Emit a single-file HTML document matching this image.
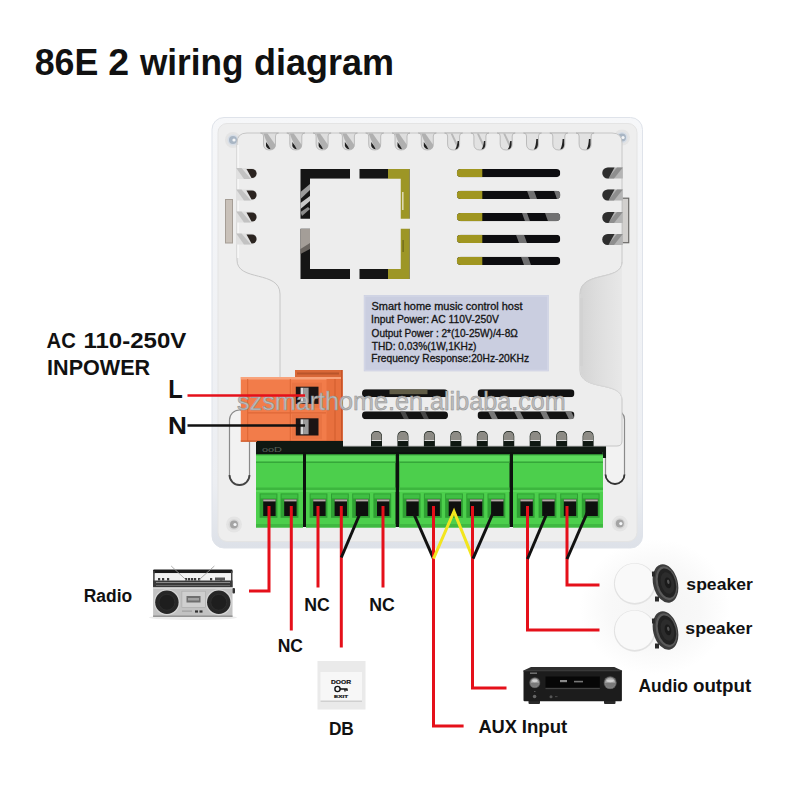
<!DOCTYPE html>
<html><head><meta charset="utf-8"><style>
html,body{margin:0;padding:0;background:#fff;width:800px;height:800px;overflow:hidden}
svg{display:block}
</style></head><body>
<svg width="800" height="800" viewBox="0 0 800 800">
<rect width="800" height="800" fill="#ffffff"/>
<defs><radialGradient id="sh" cx="0.5" cy="0.5" r="0.5"><stop offset="0" stop-color="#f4f4f4"/><stop offset="0.6" stop-color="#f8f8f8"/><stop offset="1" stop-color="#ffffff"/></radialGradient></defs>
<ellipse cx="655" cy="607" rx="75" ry="68" fill="url(#sh)"/>
<defs><linearGradient id="pg" x1="0" x2="0" y1="0" y2="1"><stop offset="0" stop-color="#f6f7f9"/><stop offset="0.85" stop-color="#eceef2"/><stop offset="1" stop-color="#dde1e8"/></linearGradient></defs>
<rect x="212" y="117.5" width="430.5" height="430.5" rx="12" fill="url(#pg)" stroke="#dfe3ea" stroke-width="1"/>
<rect x="218" y="123.5" width="419" height="418" rx="9" fill="#eeeeee" stroke="#e4e4e4" stroke-width="1"/>
<rect x="229.5" y="410" width="20" height="75" rx="10" fill="#f2f2f2" stroke="#8a8a8a" stroke-width="1.2"/>
<path d="M229.5,475 A10,10 0 0 0 249.5,475" fill="none" stroke="#444" stroke-width="1.8"/>
<rect x="605.5" y="410" width="19" height="74" rx="9.5" fill="#f2f2f2" stroke="#8a8a8a" stroke-width="1.2"/>
<path d="M605.5,474.5 A9.5,9.5 0 0 0 624.5,474.5" fill="none" stroke="#333" stroke-width="1.8"/>
<circle cx="233" cy="140" r="8" fill="#e4e4e4"/>
<circle cx="233" cy="140" r="5.5" fill="#d6dde6"/>
<circle cx="233" cy="140" r="4" fill="#a9b6c4"/>
<circle cx="234" cy="140" r="1.6" fill="#f4f6f8"/>
<circle cx="622" cy="137.5" r="8" fill="#e4e4e4"/>
<circle cx="622" cy="137.5" r="5.5" fill="#d6dde6"/>
<circle cx="622" cy="137.5" r="4" fill="#a9b6c4"/>
<circle cx="623" cy="137.5" r="1.6" fill="#f4f6f8"/>
<circle cx="234" cy="524.5" r="8" fill="#e4e4e4"/>
<circle cx="234" cy="524.5" r="5.5" fill="#d8d8d8"/>
<circle cx="234" cy="524.5" r="4" fill="#a4a4a4"/>
<circle cx="235" cy="524.5" r="1.6" fill="#f4f6f8"/>
<circle cx="619.8" cy="523.6" r="8" fill="#e4e4e4"/>
<circle cx="619.8" cy="523.6" r="5.5" fill="#d8d8d8"/>
<circle cx="619.8" cy="523.6" r="4" fill="#a4a4a4"/>
<circle cx="620.8" cy="523.6" r="1.6" fill="#f4f6f8"/>
<rect x="225.5" y="199.5" width="7" height="43.5" fill="#c9c1b9" stroke="#a59d95" stroke-width="1"/>
<rect x="621.5" y="198.2" width="7.2" height="44.5" fill="#d2d0ce" stroke="#6a6866" stroke-width="1.2"/>
<rect x="256" y="436" width="350" height="22" fill="#0f1812"/>
<rect x="296" y="452" width="307" height="3" fill="#1d3a22"/>
<path d="M237,143 Q237,133 247,133 L612,133 Q622,133 622,143 L622,262 C622,282 580,270 580,294 L580,370 C580,392 622,380 622,400 L622,441 Q622,446 617,446 L280,446 L280,294 C280,270 237,282 237,260 Z" fill="#ededed" stroke="#c6c6c6" stroke-width="1"/>
<path d="M238,145 L238,258" stroke="#f8f8f8" stroke-width="1.5"/>
<defs><linearGradient id="rg" gradientUnits="userSpaceOnUse" x1="580" x2="636" y1="0" y2="0"><stop offset="0" stop-color="#d4d4d4"/><stop offset="0.3" stop-color="#dddddd"/><stop offset="0.75" stop-color="#e8e8e8"/><stop offset="1" stop-color="#eeeeee"/></linearGradient></defs>
<path d="M580.5,294 L580.5,370 C580.5,392 622,380 622,400 L622,262 C622,282 580.5,270 580.5,294 Z" fill="url(#rg)"/>
<path d="M581.5,298 L581.5,366" stroke="#d2d2d2" stroke-width="3"/>
<path d="M622,262 C622,282 580.5,270 580.5,294" fill="none" stroke="#d0d0d0" stroke-width="1"/>
<path d="M580.5,370 C580.5,392 622,380 622,400" fill="none" stroke="#d8d8d8" stroke-width="1"/>
<path d="M260.5,133 Q263.5,133 263.5,136 L263.5,144 Q263.5,150 269.5,150 Q275.5,150 275.5,144 L275.5,136 Q275.5,133 278.5,133 Z" fill="#dedede" stroke="#b0b0b0" stroke-width="0.8"/>
<path d="M263.5,133.5 L267.5,133.5 L275.5,145 Q275.5,149.6 270.5,149.6 L265.5,139 Z" fill="#b0b0b0"/>
<path d="M266.0,142 Q269.5,146.5 270.5,149.3 Q267.0,149 266.0,146 Z" fill="#1e1e1e"/>
<path d="M286.8,133 Q289.8,133 289.8,136 L289.8,144 Q289.8,150 295.8,150 Q301.8,150 301.8,144 L301.8,136 Q301.8,133 304.8,133 Z" fill="#dedede" stroke="#b0b0b0" stroke-width="0.8"/>
<path d="M289.8,133.5 L293.8,133.5 L301.8,145 Q301.8,149.6 296.8,149.6 L291.8,139 Z" fill="#b0b0b0"/>
<path d="M292.3,142 Q295.8,146.5 296.8,149.3 Q293.3,149 292.3,146 Z" fill="#1e1e1e"/>
<path d="M313.1,133 Q316.1,133 316.1,136 L316.1,144 Q316.1,150 322.1,150 Q328.1,150 328.1,144 L328.1,136 Q328.1,133 331.1,133 Z" fill="#dedede" stroke="#b0b0b0" stroke-width="0.8"/>
<path d="M316.1,133.5 L320.1,133.5 L328.1,145 Q328.1,149.6 323.1,149.6 L318.1,139 Z" fill="#b0b0b0"/>
<path d="M318.6,142 Q322.1,146.5 323.1,149.3 Q319.6,149 318.6,146 Z" fill="#1e1e1e"/>
<path d="M339.4,133 Q342.4,133 342.4,136 L342.4,144 Q342.4,150 348.4,150 Q354.4,150 354.4,144 L354.4,136 Q354.4,133 357.4,133 Z" fill="#dedede" stroke="#b0b0b0" stroke-width="0.8"/>
<path d="M342.4,133.5 L346.4,133.5 L354.4,145 Q354.4,149.6 349.4,149.6 L344.4,139 Z" fill="#b0b0b0"/>
<path d="M344.9,142 Q348.4,146.5 349.4,149.3 Q345.9,149 344.9,146 Z" fill="#1e1e1e"/>
<path d="M365.7,133 Q368.7,133 368.7,136 L368.7,144 Q368.7,150 374.7,150 Q380.7,150 380.7,144 L380.7,136 Q380.7,133 383.7,133 Z" fill="#dedede" stroke="#b0b0b0" stroke-width="0.8"/>
<path d="M368.7,133.5 L372.7,133.5 L380.7,145 Q380.7,149.6 375.7,149.6 L370.7,139 Z" fill="#b0b0b0"/>
<path d="M371.2,142 Q374.7,146.5 375.7,149.3 Q372.2,149 371.2,146 Z" fill="#1e1e1e"/>
<path d="M392.0,133 Q395.0,133 395.0,136 L395.0,144 Q395.0,150 401.0,150 Q407.0,150 407.0,144 L407.0,136 Q407.0,133 410.0,133 Z" fill="#dedede" stroke="#b0b0b0" stroke-width="0.8"/>
<path d="M395.0,133.5 L399.0,133.5 L407.0,145 Q407.0,149.6 402.0,149.6 L397.0,139 Z" fill="#b0b0b0"/>
<path d="M397.5,142 Q401.0,146.5 402.0,149.3 Q398.5,149 397.5,146 Z" fill="#1e1e1e"/>
<path d="M418.3,133 Q421.3,133 421.3,136 L421.3,144 Q421.3,150 427.3,150 Q433.3,150 433.3,144 L433.3,136 Q433.3,133 436.3,133 Z" fill="#dedede" stroke="#b0b0b0" stroke-width="0.8"/>
<path d="M421.3,133.5 L425.3,133.5 L433.3,145 Q433.3,149.6 428.3,149.6 L423.3,139 Z" fill="#b0b0b0"/>
<path d="M423.8,142 Q427.3,146.5 428.3,149.3 Q424.8,149 423.8,146 Z" fill="#1e1e1e"/>
<path d="M444.6,133 Q447.6,133 447.6,136 L447.6,144 Q447.6,150 453.6,150 Q459.6,150 459.6,144 L459.6,136 Q459.6,133 462.6,133 Z" fill="#e2e2e2" stroke="#b0b0b0" stroke-width="0.8"/>
<path d="M450.6,133.5 L452.6,133.5 L458.6,146 L457.6,149 Z" fill="#b8b8b8"/>
<path d="M459.0,141 L459.0,145 Q458.6,149.2 455.1,149.4 Q457.1,147 457.6,141 Z" fill="#222"/>
<path d="M470.9,133 Q473.9,133 473.9,136 L473.9,144 Q473.9,150 479.9,150 Q485.9,150 485.9,144 L485.9,136 Q485.9,133 488.9,133 Z" fill="#e2e2e2" stroke="#b0b0b0" stroke-width="0.8"/>
<path d="M476.9,133.5 L478.9,133.5 L484.9,146 L483.9,149 Z" fill="#b8b8b8"/>
<path d="M485.29999999999995,141 L485.29999999999995,145 Q484.9,149.2 481.4,149.4 Q483.4,147 483.9,141 Z" fill="#222"/>
<path d="M497.20000000000005,133 Q500.20000000000005,133 500.20000000000005,136 L500.20000000000005,144 Q500.20000000000005,150 506.20000000000005,150 Q512.2,150 512.2,144 L512.2,136 Q512.2,133 515.2,133 Z" fill="#e2e2e2" stroke="#b0b0b0" stroke-width="0.8"/>
<path d="M503.20000000000005,133.5 L505.20000000000005,133.5 L511.20000000000005,146 L510.20000000000005,149 Z" fill="#b8b8b8"/>
<path d="M511.6,141 L511.6,145 Q511.20000000000005,149.2 507.70000000000005,149.4 Q509.70000000000005,147 510.20000000000005,141 Z" fill="#222"/>
<path d="M523.5,133 Q526.5,133 526.5,136 L526.5,144 Q526.5,150 532.5,150 Q538.5,150 538.5,144 L538.5,136 Q538.5,133 541.5,133 Z" fill="#e2e2e2" stroke="#b0b0b0" stroke-width="0.8"/>
<path d="M537.9,139 L537.9,145 Q537.5,149.2 534.0,149.4 Q536.0,146 536.3,139 Z" fill="#222"/>
<path d="M549.8,133 Q552.8,133 552.8,136 L552.8,144 Q552.8,150 558.8,150 Q564.8,150 564.8,144 L564.8,136 Q564.8,133 567.8,133 Z" fill="#e2e2e2" stroke="#b0b0b0" stroke-width="0.8"/>
<path d="M564.1999999999999,139 L564.1999999999999,145 Q563.8,149.2 560.3,149.4 Q562.3,146 562.5999999999999,139 Z" fill="#222"/>
<path d="M576.1,133 Q579.1,133 579.1,136 L579.1,144 Q579.1,150 585.1,150 Q591.1,150 591.1,144 L591.1,136 Q591.1,133 594.1,133 Z" fill="#e2e2e2" stroke="#b0b0b0" stroke-width="0.8"/>
<path d="M590.5,139 L590.5,145 Q590.1,149.2 586.6,149.4 Q588.6,146 588.9,139 Z" fill="#222"/>
<path d="M236.2,167.9 H251.2 A5.6,5.6 0 0 1 251.2,179.1 H236.2 Z" fill="#e0e0e0"/>
<path d="M236.2,167.9 L241.5,167.9 L251,179.1 L244,179.1 Z" fill="#c2c2c2"/>
<path d="M246.5,168.9 H252 A4.6,4.6 0 0 1 252,178.1 H251.5 Z" fill="#2b2420"/>
<path d="M236.2,189.4 H251.2 A5.6,5.6 0 0 1 251.2,200.6 H236.2 Z" fill="#e0e0e0"/>
<path d="M236.2,189.4 L241.5,189.4 L251,200.6 L244,200.6 Z" fill="#c2c2c2"/>
<path d="M246.5,190.4 H252 A4.6,4.6 0 0 1 252,199.6 H251.5 Z" fill="#2b2420"/>
<path d="M236.2,211.4 H251.2 A5.6,5.6 0 0 1 251.2,222.6 H236.2 Z" fill="#e0e0e0"/>
<path d="M236.2,211.4 L241.5,211.4 L251,222.6 L244,222.6 Z" fill="#c2c2c2"/>
<path d="M246.5,212.4 H252 A4.6,4.6 0 0 1 252,221.6 H251.5 Z" fill="#2b2420"/>
<path d="M236.2,233.4 H251.2 A5.6,5.6 0 0 1 251.2,244.6 H236.2 Z" fill="#e0e0e0"/>
<path d="M236.2,233.4 L241.5,233.4 L251,244.6 L244,244.6 Z" fill="#c2c2c2"/>
<path d="M246.5,234.4 H252 A4.6,4.6 0 0 1 252,243.6 H251.5 Z" fill="#2b2420"/>
<path d="M622.8,167.4 H607.9 A5.6,5.6 0 0 0 607.9,178.6 H622.8 Z" fill="#b4b4b4"/>
<path d="M622.8,167.4 L617,167.4 L608,178.6 L614,178.6 Z" fill="#8e8e8e"/>
<path d="M614.5,167.4 H607.9 A5.6,5.6 0 0 0 607.9,178.6 H608.5 Z" fill="#2e2e2e"/>
<path d="M622.8,189.4 H607.9 A5.6,5.6 0 0 0 607.9,200.6 H622.8 Z" fill="#b4b4b4"/>
<path d="M622.8,189.4 L617,189.4 L608,200.6 L614,200.6 Z" fill="#8e8e8e"/>
<path d="M614.5,189.4 H607.9 A5.6,5.6 0 0 0 607.9,200.6 H608.5 Z" fill="#2e2e2e"/>
<path d="M622.8,211.9 H607.9 A5.6,5.6 0 0 0 607.9,223.1 H622.8 Z" fill="#b4b4b4"/>
<path d="M622.8,211.9 L617,211.9 L608,223.1 L614,223.1 Z" fill="#8e8e8e"/>
<path d="M614.5,211.9 H607.9 A5.6,5.6 0 0 0 607.9,223.1 H608.5 Z" fill="#2e2e2e"/>
<path d="M622.8,233.9 H607.9 A5.6,5.6 0 0 0 607.9,245.1 H622.8 Z" fill="#b4b4b4"/>
<path d="M622.8,233.9 L617,233.9 L608,245.1 L614,245.1 Z" fill="#8e8e8e"/>
<path d="M614.5,233.9 H607.9 A5.6,5.6 0 0 0 607.9,245.1 H608.5 Z" fill="#2e2e2e"/>
<path fill-rule="evenodd" d="M300.5,169 H409.5 V279 H300.5 Z M310,178.75 H400.75 V269 H310 Z" fill="#151515"/>
<rect x="388" y="169" width="21.5" height="110" fill="#9d9626"/>
<rect x="310" y="178.75" width="90.75" height="90.25" fill="#ededed"/>
<rect x="350" y="168" width="9.5" height="112" fill="#ededed"/>
<rect x="299.5" y="218.75" width="111" height="10" fill="#ededed"/>
<path d="M300.5,192 L310,184 L310,190 L300.5,199 Z" fill="#9a9a9a"/>
<path d="M300.5,203 L310,196 L310,201 L300.5,209 Z" fill="#c8c8c8"/>
<path d="M300.5,212 L308,207 L310,209 L302,216 Z" fill="#8a8a8a"/>
<rect x="300.5" y="229" width="9.5" height="20" fill="#a49e98"/>
<path d="M300.5,249 L310,243 L310,249 L300.5,254 Z" fill="#6a6560"/>
<rect x="402" y="192" width="1.6" height="18" fill="#dcd8b0"/>
<rect x="402.5" y="240" width="1.2" height="12" fill="#6a6418"/>
<defs><clipPath id="vs">
<rect x="456.8" y="169.0" width="103.5" height="8.2" rx="4.1"/>
<rect x="456.8" y="190.8" width="103.5" height="8.2" rx="4.1"/>
<rect x="456.8" y="213.0" width="103.5" height="8.2" rx="4.1"/>
<rect x="456.8" y="234.8" width="103.5" height="8.2" rx="4.1"/>
<rect x="456.8" y="256.79999999999995" width="103.5" height="8.2" rx="4.1"/>
</clipPath></defs>
<g clip-path="url(#vs)">
<rect x="456.8" y="169.0" width="103.5" height="8.2" fill="#0d0d10"/>
<rect x="456.8" y="169.0" width="25.5" height="8.2" fill="#a09620"/>
<rect x="456.8" y="190.8" width="103.5" height="8.2" fill="#0d0d10"/>
<rect x="456.8" y="190.8" width="25.5" height="8.2" fill="#a09620"/>
<rect x="456.8" y="213.0" width="103.5" height="8.2" fill="#0d0d10"/>
<rect x="456.8" y="213.0" width="25.5" height="8.2" fill="#a09620"/>
<rect x="456.8" y="234.8" width="103.5" height="8.2" fill="#0d0d10"/>
<rect x="456.8" y="234.8" width="25.5" height="8.2" fill="#a09620"/>
<rect x="456.8" y="256.79999999999995" width="103.5" height="8.2" fill="#0d0d10"/>
<rect x="456.8" y="256.79999999999995" width="25.5" height="8.2" fill="#a09620"/>
<path d="M527,190.8 h7 l3,8.2 h-7 Z" fill="#8a8a8a" opacity="0.8"/>
<path d="M554,190.8 h6 l3,8.2 h-6 Z" fill="#8a8a8a" opacity="0.8"/>
<path d="M522,213.0 h5 l3,8.2 h-5 Z" fill="#8a8a8a" opacity="0.8"/>
<path d="M545,213.0 h14 l3,8.2 h-14 Z" fill="#8a8a8a" opacity="0.8"/>
<path d="M516,234.8 h8 l3,8.2 h-8 Z" fill="#8a8a8a" opacity="0.8"/>
<path d="M521,256.79999999999995 h7 l3,8.2 h-7 Z" fill="#8a8a8a" opacity="0.8"/>
</g>
<rect x="363.8" y="295" width="185" height="76.3" fill="#cacee0"/>
<rect x="364.8" y="296" width="183" height="74.3" fill="none" stroke="#d6d9e8" stroke-width="1"/>
<text x="371.51" y="310.2" font-size="10.30" font-family="Liberation Sans, sans-serif" fill="#141414" textLength="150.98" lengthAdjust="spacingAndGlyphs" stroke="#141414" stroke-width="0.3">Smart home music control host</text>
<text x="371.07" y="323.4" font-size="10.30" font-family="Liberation Sans, sans-serif" fill="#141414" textLength="127.82" lengthAdjust="spacingAndGlyphs" stroke="#141414" stroke-width="0.3">Input Power: AC 110V-250V</text>
<text x="371.55" y="336.5" font-size="10.30" font-family="Liberation Sans, sans-serif" fill="#141414" textLength="146.27" lengthAdjust="spacingAndGlyphs" stroke="#141414" stroke-width="0.3">Output Power : 2*(10-25W)/4-8Ω</text>
<text x="371.75" y="349.6" font-size="10.30" font-family="Liberation Sans, sans-serif" fill="#141414" textLength="104.67" lengthAdjust="spacingAndGlyphs" stroke="#141414" stroke-width="0.3">THD: 0.03%(1W,1KHz)</text>
<text x="371.18" y="362.4" font-size="10.30" font-family="Liberation Sans, sans-serif" fill="#141414" textLength="157.90" lengthAdjust="spacingAndGlyphs" stroke="#141414" stroke-width="0.3">Frequency Response:20Hz-20KHz</text>
<defs><clipPath id="bs">
<rect x="362" y="389.2" width="86" height="8" rx="4"/>
<rect x="362" y="411.3" width="86" height="8" rx="4"/>
<rect x="477.5" y="389.2" width="97.0" height="8" rx="4"/>
<rect x="477.5" y="411.3" width="97.0" height="8" rx="4"/>
</clipPath></defs>
<g clip-path="url(#bs)">
<rect x="362" y="389.2" width="86" height="8" fill="#121212"/>
<rect x="362" y="411.3" width="86" height="8" fill="#121212"/>
<rect x="477.5" y="389.2" width="97.0" height="8" fill="#121212"/>
<rect x="477.5" y="411.3" width="97.0" height="8" fill="#121212"/>
<rect x="389.5" y="389.2" width="38" height="5" fill="#6e6a50" opacity="0.85"/>
<path d="M488,411.3 h6 l4,8 h-6 Z" fill="#8a8a8a" opacity="0.85"/>
<path d="M514,411.3 h6 l4,8 h-6 Z" fill="#8a8a8a" opacity="0.85"/>
<path d="M540,411.3 h6 l4,8 h-6 Z" fill="#8a8a8a" opacity="0.85"/>
<path d="M565,411.3 h6 l4,8 h-6 Z" fill="#8a8a8a" opacity="0.85"/>
<path d="M400,411.3 h5 l4,8 h-5 Z" fill="#555" opacity="0.8"/>
<path d="M420,411.3 h5 l4,8 h-5 Z" fill="#555" opacity="0.8"/>
</g>
<path d="M371.0,446.5 L371.0,436.5 Q371.0,431 376.5,431 Q382.0,431 382.0,436.5 L382.0,446.5 Z" fill="#0f1812"/>
<path d="M371.5,440 L371.5,436.5 Q371.5,431.8 376.5,431.8 Q381.5,431.8 381.5,436.5 L381.5,440 Z" fill="#8d8b85"/>
<rect x="371.5" y="440" width="10" height="1" fill="#d8d8d8"/>
<path d="M397.45,446.5 L397.45,436.5 Q397.45,431 402.95,431 Q408.45,431 408.45,436.5 L408.45,446.5 Z" fill="#0f1812"/>
<path d="M397.95,440 L397.95,436.5 Q397.95,431.8 402.95,431.8 Q407.95,431.8 407.95,436.5 L407.95,440 Z" fill="#8d8b85"/>
<rect x="397.95" y="440" width="10" height="1" fill="#d8d8d8"/>
<path d="M423.9,446.5 L423.9,436.5 Q423.9,431 429.4,431 Q434.9,431 434.9,436.5 L434.9,446.5 Z" fill="#0f1812"/>
<path d="M424.4,440 L424.4,436.5 Q424.4,431.8 429.4,431.8 Q434.4,431.8 434.4,436.5 L434.4,440 Z" fill="#8d8b85"/>
<rect x="424.4" y="440" width="10" height="1" fill="#d8d8d8"/>
<path d="M450.35,446.5 L450.35,436.5 Q450.35,431 455.85,431 Q461.35,431 461.35,436.5 L461.35,446.5 Z" fill="#0f1812"/>
<path d="M450.85,440 L450.85,436.5 Q450.85,431.8 455.85,431.8 Q460.85,431.8 460.85,436.5 L460.85,440 Z" fill="#8d8b85"/>
<rect x="450.85" y="440" width="10" height="1" fill="#d8d8d8"/>
<path d="M476.8,446.5 L476.8,436.5 Q476.8,431 482.3,431 Q487.8,431 487.8,436.5 L487.8,446.5 Z" fill="#0f1812"/>
<path d="M477.3,440 L477.3,436.5 Q477.3,431.8 482.3,431.8 Q487.3,431.8 487.3,436.5 L487.3,440 Z" fill="#8d8b85"/>
<rect x="477.3" y="440" width="10" height="1" fill="#d8d8d8"/>
<path d="M503.25,446.5 L503.25,436.5 Q503.25,431 508.75,431 Q514.25,431 514.25,436.5 L514.25,446.5 Z" fill="#0f1812"/>
<path d="M503.75,440 L503.75,436.5 Q503.75,431.8 508.75,431.8 Q513.75,431.8 513.75,436.5 L513.75,440 Z" fill="#8d8b85"/>
<rect x="503.75" y="440" width="10" height="1" fill="#d8d8d8"/>
<path d="M529.7,446.5 L529.7,436.5 Q529.7,431 535.2,431 Q540.7,431 540.7,436.5 L540.7,446.5 Z" fill="#0f1812"/>
<path d="M530.2,440 L530.2,436.5 Q530.2,431.8 535.2,431.8 Q540.2,431.8 540.2,436.5 L540.2,440 Z" fill="#8d8b85"/>
<rect x="530.2" y="440" width="10" height="1" fill="#d8d8d8"/>
<path d="M556.15,446.5 L556.15,436.5 Q556.15,431 561.65,431 Q567.15,431 567.15,436.5 L567.15,446.5 Z" fill="#0f1812"/>
<path d="M556.65,440 L556.65,436.5 Q556.65,431.8 561.65,431.8 Q566.65,431.8 566.65,436.5 L566.65,440 Z" fill="#8d8b85"/>
<rect x="556.65" y="440" width="10" height="1" fill="#d8d8d8"/>
<path d="M582.6,446.5 L582.6,436.5 Q582.6,431 588.1,431 Q593.6,431 593.6,436.5 L593.6,446.5 Z" fill="#0f1812"/>
<path d="M583.1,440 L583.1,436.5 Q583.1,431.8 588.1,431.8 Q593.1,431.8 593.1,436.5 L593.1,440 Z" fill="#8d8b85"/>
<rect x="583.1" y="440" width="10" height="1" fill="#d8d8d8"/>
<rect x="295" y="370" width="47.6" height="9" fill="#d96838"/>
<rect x="297" y="372.5" width="42" height="2" fill="#b9552b"/>
<rect x="240.8" y="377" width="101.8" height="64.7" fill="#f27c4a"/>
<rect x="240.8" y="377" width="101.8" height="2.5" fill="#f8a37c"/>
<rect x="247.2" y="379" width="1" height="62" fill="#dc6533"/>
<rect x="289.8" y="379" width="1" height="62" fill="#dc6533"/>
<rect x="326.5" y="379" width="16" height="62.7" fill="#e8703e"/>
<rect x="334.5" y="379" width="1" height="62.7" fill="#cf5c2c"/>
<rect x="341" y="370" width="1.6" height="71.7" fill="#c85428"/>
<rect x="248" y="412.3" width="78" height="1.2" fill="#dd6636"/>
<rect x="240.8" y="440.5" width="101.8" height="1.2" fill="#c95a2b"/>
<rect x="292" y="382.7" width="30" height="25" fill="#ea7443"/>
<rect x="295.8" y="386.7" width="22.7" height="17.2" fill="#1c1414"/>
<rect x="300.6" y="387.7" width="3" height="15" fill="#d8d8d8"/>
<rect x="303.6" y="387.7" width="5" height="15" fill="#9a9a9a"/>
<rect x="292" y="414.3" width="30" height="25" fill="#ea7443"/>
<rect x="295.8" y="418.3" width="22.7" height="17.2" fill="#1c1414"/>
<rect x="300.6" y="419.3" width="3" height="15" fill="#d8d8d8"/>
<rect x="303.6" y="419.3" width="5" height="15" fill="#9a9a9a"/>
<rect x="257" y="441" width="86" height="14" fill="#0f1812"/>
<text x="262" y="452" font-size="7" font-family="Liberation Sans, sans-serif" fill="#5a625c" textLength="20" lengthAdjust="spacingAndGlyphs">ooD</text>
<rect x="257" y="452" width="345" height="75" fill="#0c120e"/>
<rect x="256" y="454" width="47" height="73.5" fill="#4ccf4c"/>
<rect x="256" y="454" width="47" height="1.5" fill="#2e8a32"/>
<rect x="256" y="455.5" width="47" height="6" fill="#5cdc5c"/>
<rect x="256" y="461.5" width="47" height="1.5" fill="#36a83a"/>
<rect x="256" y="487.5" width="47" height="2.5" fill="#3cb63e"/>
<rect x="256" y="490" width="47" height="2" fill="#5ad85a"/>
<rect x="256" y="524" width="47" height="3.5" fill="#3fb841"/>
<rect x="259.6" y="493.4" width="17.8" height="24.4" fill="#2f9f33"/>
<rect x="260.6" y="494.4" width="15.8" height="4" fill="#3fbf43"/>
<rect x="263.20000000000005" y="499.4" width="12.4" height="16.6" fill="#0e100e"/>
<rect x="263.20000000000005" y="499.4" width="12.4" height="2" fill="#b5aaa8"/>
<rect x="280.6" y="493.4" width="17.8" height="24.4" fill="#2f9f33"/>
<rect x="281.6" y="494.4" width="15.8" height="4" fill="#3fbf43"/>
<rect x="284.20000000000005" y="499.4" width="12.4" height="16.6" fill="#0e100e"/>
<rect x="284.20000000000005" y="499.4" width="12.4" height="2" fill="#b5aaa8"/>
<rect x="306" y="454" width="89.5" height="73.5" fill="#4ccf4c"/>
<rect x="306" y="454" width="89.5" height="1.5" fill="#2e8a32"/>
<rect x="306" y="455.5" width="89.5" height="6" fill="#5cdc5c"/>
<rect x="306" y="461.5" width="89.5" height="1.5" fill="#36a83a"/>
<rect x="306" y="487.5" width="89.5" height="2.5" fill="#3cb63e"/>
<rect x="306" y="490" width="89.5" height="2" fill="#5ad85a"/>
<rect x="306" y="524" width="89.5" height="3.5" fill="#3fb841"/>
<rect x="309.6" y="493.4" width="17.8" height="24.4" fill="#2f9f33"/>
<rect x="310.6" y="494.4" width="15.8" height="4" fill="#3fbf43"/>
<rect x="313.20000000000005" y="499.4" width="12.4" height="16.6" fill="#0e100e"/>
<rect x="313.20000000000005" y="499.4" width="12.4" height="2" fill="#b5aaa8"/>
<rect x="331" y="493.4" width="17.8" height="24.4" fill="#2f9f33"/>
<rect x="332" y="494.4" width="15.8" height="4" fill="#3fbf43"/>
<rect x="334.6" y="499.4" width="12.4" height="16.6" fill="#0e100e"/>
<rect x="334.6" y="499.4" width="12.4" height="2" fill="#b5aaa8"/>
<rect x="352.2" y="493.4" width="17.8" height="24.4" fill="#2f9f33"/>
<rect x="353.2" y="494.4" width="15.8" height="4" fill="#3fbf43"/>
<rect x="355.8" y="499.4" width="12.4" height="16.6" fill="#0e100e"/>
<rect x="355.8" y="499.4" width="12.4" height="2" fill="#b5aaa8"/>
<rect x="373.4" y="493.4" width="17.8" height="24.4" fill="#2f9f33"/>
<rect x="374.4" y="494.4" width="15.8" height="4" fill="#3fbf43"/>
<rect x="377.0" y="499.4" width="12.4" height="16.6" fill="#0e100e"/>
<rect x="377.0" y="499.4" width="12.4" height="2" fill="#b5aaa8"/>
<rect x="399.2" y="454" width="110.30000000000001" height="73.5" fill="#4ccf4c"/>
<rect x="399.2" y="454" width="110.30000000000001" height="1.5" fill="#2e8a32"/>
<rect x="399.2" y="455.5" width="110.30000000000001" height="6" fill="#5cdc5c"/>
<rect x="399.2" y="461.5" width="110.30000000000001" height="1.5" fill="#36a83a"/>
<rect x="399.2" y="487.5" width="110.30000000000001" height="2.5" fill="#3cb63e"/>
<rect x="399.2" y="490" width="110.30000000000001" height="2" fill="#5ad85a"/>
<rect x="399.2" y="524" width="110.30000000000001" height="3.5" fill="#3fb841"/>
<rect x="402.7" y="493.4" width="17.8" height="24.4" fill="#2f9f33"/>
<rect x="403.7" y="494.4" width="15.8" height="4" fill="#3fbf43"/>
<rect x="406.3" y="499.4" width="12.4" height="16.6" fill="#0e100e"/>
<rect x="406.3" y="499.4" width="12.4" height="2" fill="#b5aaa8"/>
<rect x="423.9" y="493.4" width="17.8" height="24.4" fill="#2f9f33"/>
<rect x="424.9" y="494.4" width="15.8" height="4" fill="#3fbf43"/>
<rect x="427.5" y="499.4" width="12.4" height="16.6" fill="#0e100e"/>
<rect x="427.5" y="499.4" width="12.4" height="2" fill="#b5aaa8"/>
<rect x="445.1" y="493.4" width="17.8" height="24.4" fill="#2f9f33"/>
<rect x="446.1" y="494.4" width="15.8" height="4" fill="#3fbf43"/>
<rect x="448.70000000000005" y="499.4" width="12.4" height="16.6" fill="#0e100e"/>
<rect x="448.70000000000005" y="499.4" width="12.4" height="2" fill="#b5aaa8"/>
<rect x="466.3" y="493.4" width="17.8" height="24.4" fill="#2f9f33"/>
<rect x="467.3" y="494.4" width="15.8" height="4" fill="#3fbf43"/>
<rect x="469.90000000000003" y="499.4" width="12.4" height="16.6" fill="#0e100e"/>
<rect x="469.90000000000003" y="499.4" width="12.4" height="2" fill="#b5aaa8"/>
<rect x="487.5" y="493.4" width="17.8" height="24.4" fill="#2f9f33"/>
<rect x="488.5" y="494.4" width="15.8" height="4" fill="#3fbf43"/>
<rect x="491.1" y="499.4" width="12.4" height="16.6" fill="#0e100e"/>
<rect x="491.1" y="499.4" width="12.4" height="2" fill="#b5aaa8"/>
<rect x="513" y="454" width="90" height="73.5" fill="#4ccf4c"/>
<rect x="513" y="454" width="90" height="1.5" fill="#2e8a32"/>
<rect x="513" y="455.5" width="90" height="6" fill="#5cdc5c"/>
<rect x="513" y="461.5" width="90" height="1.5" fill="#36a83a"/>
<rect x="513" y="487.5" width="90" height="2.5" fill="#3cb63e"/>
<rect x="513" y="490" width="90" height="2" fill="#5ad85a"/>
<rect x="513" y="524" width="90" height="3.5" fill="#3fb841"/>
<rect x="516.8" y="493.4" width="17.8" height="24.4" fill="#2f9f33"/>
<rect x="517.8" y="494.4" width="15.8" height="4" fill="#3fbf43"/>
<rect x="520.4" y="499.4" width="12.4" height="16.6" fill="#0e100e"/>
<rect x="520.4" y="499.4" width="12.4" height="2" fill="#b5aaa8"/>
<rect x="538.6" y="493.4" width="17.8" height="24.4" fill="#2f9f33"/>
<rect x="539.6" y="494.4" width="15.8" height="4" fill="#3fbf43"/>
<rect x="542.2" y="499.4" width="12.4" height="16.6" fill="#0e100e"/>
<rect x="542.2" y="499.4" width="12.4" height="2" fill="#b5aaa8"/>
<rect x="560.2" y="493.4" width="17.8" height="24.4" fill="#2f9f33"/>
<rect x="561.2" y="494.4" width="15.8" height="4" fill="#3fbf43"/>
<rect x="563.8000000000001" y="499.4" width="12.4" height="16.6" fill="#0e100e"/>
<rect x="563.8000000000001" y="499.4" width="12.4" height="2" fill="#b5aaa8"/>
<rect x="581.8" y="493.4" width="17.8" height="24.4" fill="#2f9f33"/>
<rect x="582.8" y="494.4" width="15.8" height="4" fill="#3fbf43"/>
<rect x="585.4" y="499.4" width="12.4" height="16.6" fill="#0e100e"/>
<rect x="585.4" y="499.4" width="12.4" height="2" fill="#b5aaa8"/>
<text x="237.00" y="410" font-size="26.50" font-family="Liberation Sans, sans-serif" fill="#bcbcbc" textLength="328.69" lengthAdjust="spacingAndGlyphs" stroke="#929292" stroke-width="0.55">szsmarthome.en.alibaba.com</text>
<path d="M187.5,395.5 L305,395.5" fill="none" stroke="#e5101a" stroke-width="2.5" stroke-linejoin="miter" stroke-linecap="butt"/>
<path d="M187.5,425.5 L305,425.5" fill="none" stroke="#111111" stroke-width="2.5" stroke-linejoin="miter" stroke-linecap="butt"/>
<path d="M269,506 L269,591 L249,591" fill="none" stroke="#e5101a" stroke-width="3" stroke-linejoin="miter" stroke-linecap="butt"/>
<path d="M291.3,506 L291.3,630.5" fill="none" stroke="#e5101a" stroke-width="3" stroke-linejoin="miter" stroke-linecap="butt"/>
<path d="M318,506 L318,587.5" fill="none" stroke="#e5101a" stroke-width="3" stroke-linejoin="miter" stroke-linecap="butt"/>
<path d="M341.3,506 L341.3,647.5" fill="none" stroke="#e5101a" stroke-width="3" stroke-linejoin="miter" stroke-linecap="butt"/>
<path d="M360,513.5 L341.3,557.5" fill="none" stroke="#111111" stroke-width="3" stroke-linejoin="miter" stroke-linecap="butt"/>
<path d="M383,506 L383,587.5" fill="none" stroke="#e5101a" stroke-width="3" stroke-linejoin="miter" stroke-linecap="butt"/>
<path d="M413.5,513 L433.5,558.6" fill="none" stroke="#111111" stroke-width="3" stroke-linejoin="miter" stroke-linecap="butt"/>
<path d="M433.5,506 L433.5,726 L463.6,726" fill="none" stroke="#e5101a" stroke-width="3" stroke-linejoin="miter" stroke-linecap="butt"/>
<path d="M433.5,558.6 L454,511.5 L473,558.6" fill="none" stroke="#f2e51e" stroke-width="3" stroke-linejoin="miter" stroke-linecap="butt"/>
<path d="M472.5,506 L472.5,688 L506.5,688" fill="none" stroke="#e5101a" stroke-width="3" stroke-linejoin="miter" stroke-linecap="butt"/>
<path d="M493,513 L473,558.6" fill="none" stroke="#111111" stroke-width="3" stroke-linejoin="miter" stroke-linecap="butt"/>
<path d="M527.5,506 L527.5,630 L599.5,630" fill="none" stroke="#e5101a" stroke-width="3" stroke-linejoin="miter" stroke-linecap="butt"/>
<path d="M547,513 L527.5,559" fill="none" stroke="#111111" stroke-width="3" stroke-linejoin="miter" stroke-linecap="butt"/>
<path d="M567,506 L567,585 L599.5,585" fill="none" stroke="#e5101a" stroke-width="3" stroke-linejoin="miter" stroke-linecap="butt"/>
<path d="M587,513 L567,559" fill="none" stroke="#111111" stroke-width="3" stroke-linejoin="miter" stroke-linecap="butt"/>
<ellipse cx="193" cy="617.5" rx="44" ry="2.5" fill="#ececec"/>
<rect x="153.1" y="569.4" width="79.4" height="3.8" rx="1" fill="#1a1a1a"/>
<rect x="153.1" y="571" width="1.6" height="16" fill="#444"/>
<rect x="230.9" y="571" width="1.6" height="16" fill="#444"/>
<rect x="155" y="573.2" width="76" height="7.5" fill="#f2f2f2"/>
<rect x="158" y="578" width="2.2" height="2.5" fill="#3a3a3a"/>
<rect x="162" y="578" width="2.2" height="2.5" fill="#3a3a3a"/>
<rect x="167" y="578" width="2.2" height="2.5" fill="#3a3a3a"/>
<rect x="185" y="578" width="2.2" height="2.5" fill="#3a3a3a"/>
<rect x="188" y="578" width="2.2" height="2.5" fill="#3a3a3a"/>
<rect x="191" y="578" width="2.2" height="2.5" fill="#3a3a3a"/>
<rect x="194" y="578" width="2.2" height="2.5" fill="#3a3a3a"/>
<rect x="198" y="578" width="2.2" height="2.5" fill="#3a3a3a"/>
<rect x="210" y="578" width="2.2" height="2.5" fill="#3a3a3a"/>
<rect x="220" y="578" width="2.2" height="2.5" fill="#3a3a3a"/>
<rect x="215" y="577.5" width="10" height="3" fill="#555"/>
<line x1="171.2" y1="566" x2="186.2" y2="580" stroke="#9a9a9a" stroke-width="0.8"/>
<line x1="214.4" y1="566" x2="198.8" y2="580" stroke="#9a9a9a" stroke-width="0.8"/>
<rect x="153.1" y="580.5" width="79.4" height="7" fill="#3a3a3a"/>
<rect x="156" y="582" width="74" height="1" fill="#8a8a8a"/>
<rect x="156" y="585" width="74" height="0.8" fill="#777"/>
<rect x="153.1" y="587.5" width="79.4" height="29.4" fill="#c2c2c2"/>
<rect x="153.1" y="587.5" width="79.4" height="1.5" fill="#d8d8d8"/>
<rect x="153.1" y="615.5" width="79.4" height="1.4" fill="#8e8e8e"/>
<circle cx="166.9" cy="602.3" r="13" fill="#d6d6d6"/>
<circle cx="166.9" cy="602.3" r="11.7" fill="#262626"/>
<circle cx="166.9" cy="602.3" r="8" fill="#1e1e1e" stroke="#303030" stroke-width="0.8"/>
<circle cx="218.75" cy="602.3" r="13" fill="#d6d6d6"/>
<circle cx="218.75" cy="602.3" r="11.7" fill="#262626"/>
<circle cx="218.75" cy="602.3" r="8" fill="#1e1e1e" stroke="#303030" stroke-width="0.8"/>
<rect x="181.9" y="591.2" width="23.7" height="16.3" fill="#cfcfcf" stroke="#a8a8a8" stroke-width="0.6"/>
<rect x="186.5" y="596" width="14" height="6.5" fill="#6e6e6e"/>
<rect x="188" y="598" width="11" height="2.5" fill="#a0a0a0"/>
<rect x="195" y="610.4" width="3" height="2.2" fill="#333"/>
<rect x="199.5" y="610.4" width="3" height="2.2" fill="#333"/>
<rect x="182" y="610.6" width="10" height="1" fill="#999"/>
<rect x="232.5" y="588" width="2.5" height="5.5" rx="1" fill="#333"/>
<rect x="317.5" y="661" width="48" height="48.5" fill="#eaeaea"/>
<rect x="320.5" y="672" width="41.5" height="30" fill="#f7f7f7"/>
<rect x="320.5" y="700.5" width="41.5" height="1.5" fill="#d0d0d0"/>
<text x="341" y="683.8" font-size="5.2" font-family="Liberation Sans, sans-serif" font-weight="bold" fill="#111" stroke="#111" stroke-width="0.2" text-anchor="middle" textLength="20" lengthAdjust="spacingAndGlyphs">DOOR</text>
<circle cx="337.5" cy="689" r="2.6" fill="none" stroke="#111" stroke-width="1.4"/>
<path d="M340,689 H347.5 M345,689 V691.5 M347,689 V691" stroke="#111" stroke-width="1.4"/>
<text x="341" y="697.8" font-size="4.4" font-family="Liberation Sans, sans-serif" font-weight="bold" fill="#111" stroke="#111" stroke-width="0.2" text-anchor="middle" textLength="14" lengthAdjust="spacingAndGlyphs">EXIT</text>
<rect x="528.5" y="700" width="11.5" height="4" rx="1" fill="#2a2a2a"/>
<rect x="604" y="700" width="11.5" height="4" rx="1" fill="#2a2a2a"/>
<path d="M531,666.9 L614.3,666.9 L621.9,670.5 L523.5,670.5 Z" fill="#2e2e2e"/>
<rect x="523.5" y="670.3" width="98.4" height="31" rx="1" fill="#1c1c1c"/>
<rect x="523.5" y="670.3" width="98.4" height="1" fill="#3a3a3a"/>
<rect x="530" y="672.5" width="7" height="1.4" fill="#777"/>
<rect x="545.5" y="676.5" width="54.3" height="11" fill="#070707"/>
<rect x="560" y="680" width="7" height="2.2" fill="#8a8a8a"/>
<rect x="574" y="680.8" width="9" height="1.6" fill="#777"/>
<rect x="545.5" y="688.3" width="54.3" height="0.8" fill="#555"/>
<circle cx="534.8" cy="682.7" r="5.8999999999999995" fill="#2a2a2a"/>
<circle cx="534.8" cy="682.7" r="5.3" fill="#6c6c6c"/>
<circle cx="534.8" cy="682.7" r="4.199999999999999" fill="#a8a8a8"/>
<path d="M530.6,682.7 A4.199999999999999,4.199999999999999 0 0 0 538.9999999999999,682.7" fill="#7a7a7a"/>
<ellipse cx="534.8" cy="680.8" rx="2.8" ry="1.4" fill="#d0d0d0"/>
<circle cx="610.2" cy="682.7" r="6.8999999999999995" fill="#2a2a2a"/>
<circle cx="610.2" cy="682.7" r="6.3" fill="#6c6c6c"/>
<circle cx="610.2" cy="682.7" r="5.199999999999999" fill="#a8a8a8"/>
<path d="M605.0000000000001,682.7 A5.199999999999999,5.199999999999999 0 0 0 615.4,682.7" fill="#7a7a7a"/>
<ellipse cx="610.2" cy="680.8" rx="3.8" ry="1.4" fill="#d0d0d0"/>
<circle cx="534.6" cy="696.5" r="1.8" fill="#666"/>
<circle cx="551" cy="696.8" r="1.5" fill="#555"/>
<rect x="555" y="696" width="2.5" height="1.2" fill="#444"/>
<rect x="534" y="691" width="1.5" height="1" fill="#555"/>
<circle cx="634.8" cy="583.8" r="20.9" fill="#e2e2e2"/>
<circle cx="634.6" cy="583.3" r="19.7" fill="#f9f9f9"/>
<g transform="rotate(-14 665.5 583.5)">
<ellipse cx="665.5" cy="583.5" rx="12.3" ry="19.6" fill="#3c3c3c"/>
<ellipse cx="666.5" cy="583.5" rx="10.3" ry="17.2" fill="#5a5a5a"/>
<ellipse cx="667" cy="583.5" rx="8.8" ry="15" fill="#222"/>
<ellipse cx="667.5" cy="583.5" rx="6.5" ry="11" fill="#2c2c2c"/>
<ellipse cx="668" cy="583.5" rx="3.2" ry="5.5" fill="#1a1a1a"/>
<ellipse cx="668.6" cy="582.5" rx="1.2" ry="2.2" fill="#555"/>
</g>
<rect x="652" y="571.5" width="3" height="5" fill="#2a2a2a"/>
<rect x="655" y="596.5" width="4" height="5" fill="#2a2a2a"/>
<circle cx="634.8" cy="630.8" r="20.9" fill="#e2e2e2"/>
<circle cx="634.6" cy="630.3" r="19.7" fill="#f9f9f9"/>
<g transform="rotate(-14 665.5 630.5)">
<ellipse cx="665.5" cy="630.5" rx="12.3" ry="19.6" fill="#3c3c3c"/>
<ellipse cx="666.5" cy="630.5" rx="10.3" ry="17.2" fill="#5a5a5a"/>
<ellipse cx="667" cy="630.5" rx="8.8" ry="15" fill="#222"/>
<ellipse cx="667.5" cy="630.5" rx="6.5" ry="11" fill="#2c2c2c"/>
<ellipse cx="668" cy="630.5" rx="3.2" ry="5.5" fill="#1a1a1a"/>
<ellipse cx="668.6" cy="629.5" rx="1.2" ry="2.2" fill="#555"/>
</g>
<rect x="652" y="618.5" width="3" height="5" fill="#2a2a2a"/>
<rect x="655" y="643.5" width="4" height="5" fill="#2a2a2a"/>
<text x="34.73" y="74.9" font-size="37.00" font-family="Liberation Sans, sans-serif" font-weight="bold" fill="#111" textLength="63.68" lengthAdjust="spacingAndGlyphs" >86E</text>
<text x="108.19" y="74.9" font-size="37.00" font-family="Liberation Sans, sans-serif" font-weight="bold" fill="#111" textLength="20.86" lengthAdjust="spacingAndGlyphs" >2</text>
<text x="140.00" y="74.9" font-size="37.00" font-family="Liberation Sans, sans-serif" font-weight="bold" fill="#111" textLength="103.51" lengthAdjust="spacingAndGlyphs" >wiring</text>
<text x="254.06" y="74.9" font-size="37.00" font-family="Liberation Sans, sans-serif" font-weight="bold" fill="#111" textLength="140.04" lengthAdjust="spacingAndGlyphs" >diagram</text>
<text x="46.59" y="347.7" font-size="21.70" font-family="Liberation Sans, sans-serif" font-weight="bold" fill="#111" textLength="29.25" lengthAdjust="spacingAndGlyphs" >AC</text>
<text x="83.44" y="347.7" font-size="21.70" font-family="Liberation Sans, sans-serif" font-weight="bold" fill="#111" textLength="102.83" lengthAdjust="spacingAndGlyphs" >110-250V</text>
<text x="47.10" y="374.8" font-size="21.86" font-family="Liberation Sans, sans-serif" font-weight="bold" fill="#111" textLength="103.10" lengthAdjust="spacingAndGlyphs" >INPOWER</text>
<text x="168.20" y="398.2" font-size="25.36" font-family="Liberation Sans, sans-serif" font-weight="bold" fill="#111" textLength="14.53" lengthAdjust="spacingAndGlyphs" >L</text>
<text x="168.05" y="433.9" font-size="24.64" font-family="Liberation Sans, sans-serif" font-weight="bold" fill="#111" textLength="18.91" lengthAdjust="spacingAndGlyphs" >N</text>
<text x="83.77" y="601.75" font-size="18.62" font-family="Liberation Sans, sans-serif" font-weight="bold" fill="#111" textLength="48.38" lengthAdjust="spacingAndGlyphs" >Radio</text>
<text x="304.25" y="611.1" font-size="18.07" font-family="Liberation Sans, sans-serif" font-weight="bold" fill="#111" textLength="25.57" lengthAdjust="spacingAndGlyphs" >NC</text>
<text x="369.25" y="611.1" font-size="18.07" font-family="Liberation Sans, sans-serif" font-weight="bold" fill="#111" textLength="25.57" lengthAdjust="spacingAndGlyphs" >NC</text>
<text x="277.76" y="651.75" font-size="18.07" font-family="Liberation Sans, sans-serif" font-weight="bold" fill="#111" textLength="25.25" lengthAdjust="spacingAndGlyphs" >NC</text>
<text x="328.88" y="734.75" font-size="18.48" font-family="Liberation Sans, sans-serif" font-weight="bold" fill="#111" textLength="24.98" lengthAdjust="spacingAndGlyphs" >DB</text>
<text x="478.44" y="732.7" font-size="18.00" font-family="Liberation Sans, sans-serif" font-weight="bold" fill="#111" textLength="38.56" lengthAdjust="spacingAndGlyphs" >AUX</text>
<text x="521.79" y="732.7" font-size="18.00" font-family="Liberation Sans, sans-serif" font-weight="bold" fill="#111" textLength="45.46" lengthAdjust="spacingAndGlyphs" >Input</text>
<text x="638.46" y="691.9" font-size="17.90" font-family="Liberation Sans, sans-serif" font-weight="bold" fill="#111" textLength="49.48" lengthAdjust="spacingAndGlyphs" >Audio</text>
<text x="692.95" y="691.9" font-size="17.90" font-family="Liberation Sans, sans-serif" font-weight="bold" fill="#111" textLength="58.32" lengthAdjust="spacingAndGlyphs" >output</text>
<text x="686.39" y="589.5" font-size="17.24" font-family="Liberation Sans, sans-serif" font-weight="bold" fill="#111" textLength="66.39" lengthAdjust="spacingAndGlyphs" >speaker</text>
<text x="685.38" y="634" font-size="17.24" font-family="Liberation Sans, sans-serif" font-weight="bold" fill="#111" textLength="66.90" lengthAdjust="spacingAndGlyphs" >speaker</text>
</svg>
</body></html>
